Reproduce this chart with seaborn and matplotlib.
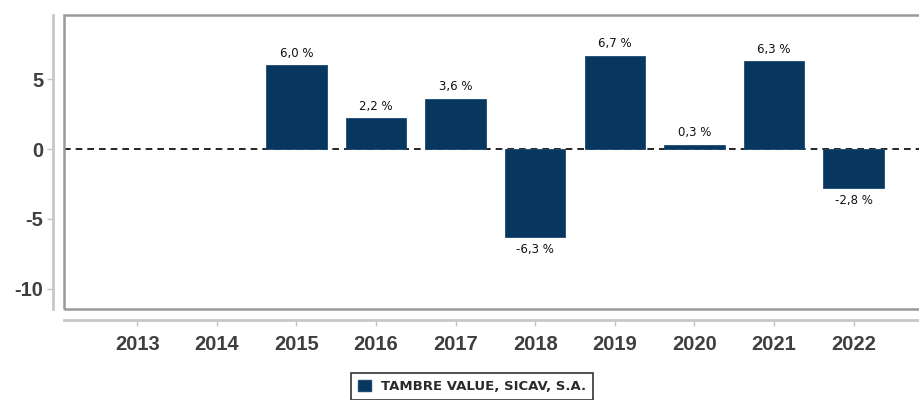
import numpy as np
import pandas as pd
import matplotlib
matplotlib.use("Agg")
import matplotlib.pyplot as plt
from matplotlib.patches import Rectangle, Patch
import seaborn as sns

years = ["2013", "2014", "2015", "2016", "2017", "2018", "2019", "2020", "2021", "2022"]
returns = [np.nan, np.nan, 6.0, 2.2, 3.6, -6.3, 6.7, 0.3, 6.3, -2.8]
y_ticks = [5, 0, -5, -10]
series_name = "TAMBRE VALUE, SICAV, S.A."

navy = "#07365f"
tick_color = "#3f3f3f"

sns.set_theme(style="white")
plt.rcParams["font.family"] = ["Liberation Sans", "DejaVu Sans"]

df = pd.DataFrame({"year": years, "ret": returns})

fig = plt.figure(figsize=(9.2, 4.0), dpi=100)
ax = fig.add_axes([64 / 920, 1 - 309 / 400, 1 - 64 / 920 + 0.01, (309 - 15) / 400])

sns.barplot(data=df, x="year", y="ret", order=years, color=navy,
            saturation=1, width=0.76, ax=ax, zorder=3, edgecolor="#1b4a74", linewidth=0.6)

ax.axhline(0, color="black", linestyle=(0, (4, 3)), linewidth=1.2, zorder=2)

ax.set_ylim(-11.45, 9.6)
ax.set_xlim(-0.92, 9.95)
ax.set_xlabel("")
ax.set_ylabel("")

# offset axis lines outside the plotting frame
for side in ("top", "right"):
    ax.spines[side].set_visible(False)
for side in ("left", "bottom"):
    ax.spines[side].set_position(("outward", 8))
    ax.spines[side].set_color("#c8c8c8")
    ax.spines[side].set_linewidth(2)

# tick labels (styled after spine repositioning, which resets ticks)
tick_font = dict(fontweight="bold", color=tick_color, fontsize=14.5)
ax.set_xticks(range(len(years)))
ax.set_xticklabels(years, **tick_font)
ax.set_yticks(y_ticks)
ax.set_yticklabels([str(t) for t in y_ticks], **tick_font)
ax.tick_params(axis="both", which="major", length=4, width=1, color="#c4c4c4",
               left=True, bottom=True)
ax.tick_params(axis="x", pad=7)
ax.tick_params(axis="y", pad=3)

ax.add_patch(Rectangle((0, 0), 1, 1, transform=ax.transAxes, fill=False,
                       edgecolor="#9a9a9a", linewidth=1.8, clip_on=False, zorder=5))

# value labels
for i, v in enumerate(returns):
    if np.isnan(v):
        continue
    txt = f"{v:.1f}".replace(".", ",") + " %"
    off, va = (4, "bottom") if v >= 0 else (-4, "top")
    ax.annotate(txt, (i, v), xytext=(0, off), textcoords="offset points",
                ha="center", va=va, fontsize=8.5, color="#111111",
                family="DejaVu Sans")

handle = Patch(facecolor=navy, edgecolor="#1b4a74")
leg = fig.legend([handle], [series_name], loc="upper center",
                 bbox_to_anchor=(472 / 920, 1 - 373 / 400), frameon=True,
                 fancybox=False,
                 prop={"family": "DejaVu Sans", "size": 9.5, "weight": "bold"},
                 handlelength=1.0, handleheight=1.0, borderpad=0.5,
                 handletextpad=0.8, borderaxespad=0)
for t in leg.get_texts():
    t.set_color("#2a2a2a")
leg.get_frame().set_edgecolor("black")
leg.get_frame().set_linewidth(1.2)

fig.savefig("out.png", dpi=100)
